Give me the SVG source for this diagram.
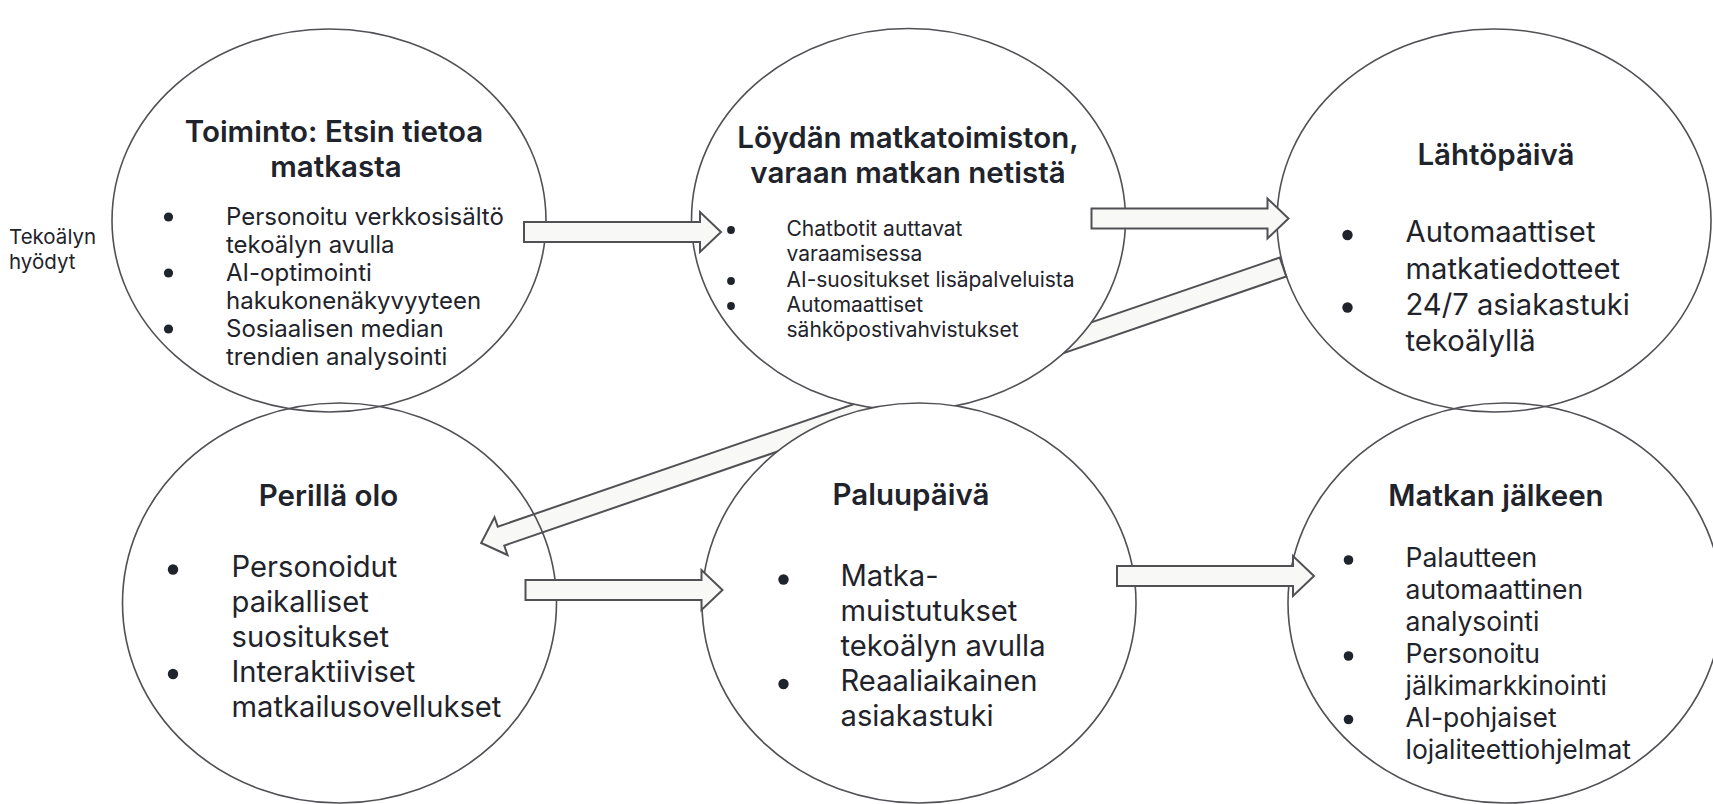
<svg xmlns="http://www.w3.org/2000/svg" width="1713" height="804" viewBox="0 0 1713 804">
<style>
.c{stroke:#505055;stroke-width:1.6}
.nf{fill:none}
.wf{fill:#ffffff}
.ar{fill:#f8f8f6;stroke:#505055;stroke-width:2;stroke-linejoin:miter}
text{font-family:Inter,"Noto Sans","Liberation Sans",sans-serif;fill:#1f232b}
.t{font-size:29.5px;font-weight:600;text-anchor:middle}
.b24{font-size:24px}
.b21{font-size:21px}
.b28{font-size:29.2px}
.b26{font-size:26.5px}
.lab{font-size:20.5px}
.d{fill:#1f232b}
</style>
<defs>
<polygon id="harrow" points="0,-10 176,-10 176,-20 197,0 176,20 176,10 0,10"/>
</defs>
<rect width="1713" height="804" fill="#ffffff"/>
<g id="label">
<text class="lab" x="9" y="244">Tekoälyn</text>
<text class="lab" x="9" y="269">hyödyt</text>
</g>
<g id="connectors">
<polygon class="ar" transform="translate(1283,267) rotate(161.01)" points="0,-10 827,-10 827,-20 848,0 827,20 827,10 0,10"/>
</g>
<g id="n1"><ellipse class="c nf" cx="329" cy="220.5" rx="217" ry="191.5"/></g>
<g id="n3"><ellipse class="c nf" cx="1494" cy="220.5" rx="217" ry="191.5"/></g>
<g id="n4"><ellipse class="c nf" cx="339.5" cy="603" rx="217" ry="200"/></g>
<g id="n6"><ellipse class="c nf" cx="1505" cy="603" rx="217" ry="200"/></g>
<g id="n2"><ellipse class="c wf" cx="908.5" cy="219.5" rx="217" ry="191"/></g>
<g id="n5"><ellipse class="c wf" cx="919" cy="603" rx="217" ry="200"/></g>
<g id="connectors2">
<use href="#harrow" class="ar" x="524" y="232"/>
<use href="#harrow" class="ar" x="1091.5" y="218.5"/>
<use href="#harrow" class="ar" x="525.5" y="590"/>
<use href="#harrow" class="ar" x="1117" y="576"/>
</g>
<g id="t1">
<text class="t" x="334" y="142">Toiminto: Etsin tietoa</text>
<text class="t" x="336" y="177">matkasta</text>
<circle class="d" cx="168.5" cy="217" r="4.6"/>
<circle class="d" cx="168.5" cy="273" r="4.6"/>
<circle class="d" cx="168.5" cy="329" r="4.6"/>
<text class="b24" x="226" y="225">Personoitu verkkosisältö</text>
<text class="b24" x="226" y="253">tekoälyn avulla</text>
<text class="b24" x="226" y="281">AI-optimointi</text>
<text class="b24" x="226" y="309">hakukonenäkyvyyteen</text>
<text class="b24" x="226" y="337">Sosiaalisen median</text>
<text class="b24" x="226" y="365">trendien analysointi</text>
</g>
<g id="t2">
<text class="t" x="908" y="148">Löydän matkatoimiston,</text>
<text class="t" x="908" y="183">varaan matkan netistä</text>
<circle class="d" cx="731" cy="230" r="3.9"/>
<circle class="d" cx="731" cy="281" r="3.9"/>
<circle class="d" cx="731" cy="306" r="3.9"/>
<text class="b21" x="786.5" y="236">Chatbotit auttavat</text>
<text class="b21" x="786.5" y="261">varaamisessa</text>
<text class="b21" x="786.5" y="286.5">AI-suositukset lisäpalveluista</text>
<text class="b21" x="786.5" y="311.5">Automaattiset</text>
<text class="b21" x="786.5" y="336.5">sähköpostivahvistukset</text>
</g>
<g id="t3">
<text class="t" x="1496" y="165">Lähtöpäivä</text>
<circle class="d" cx="1347.5" cy="235" r="5.2"/>
<circle class="d" cx="1347.5" cy="307.5" r="5.2"/>
<text class="b28" x="1405.5" y="242">Automaattiset</text>
<text class="b28" x="1405.5" y="278.5">matkatiedotteet</text>
<text class="b28" x="1405.5" y="315">24/7 asiakastuki</text>
<text class="b28" x="1405.5" y="350.5">tekoälyllä</text>
</g>
<g id="t4">
<text class="t" x="328.5" y="506">Perillä olo</text>
<circle class="d" cx="173" cy="569.5" r="5.2"/>
<circle class="d" cx="173" cy="674" r="5.2"/>
<text class="b28" x="231.5" y="577">Personoidut</text>
<text class="b28" x="231.5" y="612">paikalliset</text>
<text class="b28" x="231.5" y="647">suositukset</text>
<text class="b28" x="231.5" y="682">Interaktiiviset</text>
<text class="b28" x="231.5" y="717">matkailusovellukset</text>
</g>
<g id="t5">
<text class="t" x="911" y="505">Paluupäivä</text>
<circle class="d" cx="783.5" cy="579.5" r="5.2"/>
<circle class="d" cx="783.5" cy="684" r="5.2"/>
<text class="b28" x="840.5" y="586">Matka-</text>
<text class="b28" x="840.5" y="621">muistutukset</text>
<text class="b28" x="840.5" y="656">tekoälyn avulla</text>
<text class="b28" x="840.5" y="691">Reaaliaikainen</text>
<text class="b28" x="840.5" y="726">asiakastuki</text>
</g>
<g id="t6">
<text class="t" x="1496" y="506">Matkan jälkeen</text>
<circle class="d" cx="1348.5" cy="560" r="4.8"/>
<circle class="d" cx="1348.5" cy="656" r="4.8"/>
<circle class="d" cx="1348.5" cy="719.5" r="4.8"/>
<text class="b26" x="1405.5" y="567">Palautteen</text>
<text class="b26" x="1405.5" y="599">automaattinen</text>
<text class="b26" x="1405.5" y="631">analysointi</text>
<text class="b26" x="1405.5" y="663">Personoitu</text>
<text class="b26" x="1405.5" y="695">jälkimarkkinointi</text>
<text class="b26" x="1405.5" y="727">AI-pohjaiset</text>
<text class="b26" x="1405.5" y="759">lojaliteettiohjelmat</text>
</g>
</svg>
